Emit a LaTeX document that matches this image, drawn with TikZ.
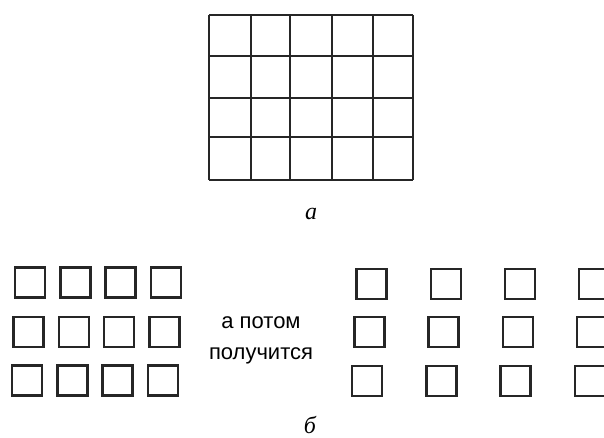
\documentclass[tikz,border=0pt]{standalone}
\usepackage{fontspec}
\setmainfont{Liberation Serif}
\newfontfamily\labelsans{Liberation Sans}
\begin{document}
\begin{tikzpicture}[x=1pt,y=-1pt,
  gridline/.style={line width=2pt,draw=black!85},
  sqbox/.style={draw=black!85,line width=2.4pt,minimum size=30pt,inner sep=0pt},
  caption/.style={font=\itshape\fontsize{24}{28}\selectfont,inner sep=1pt}]
\useasboundingbox (0,0) rectangle (604,438);
\clip (0,0) rectangle (604,438);
% grid a
\foreach \x in {209,251,290,332,373,413} \draw[gridline] (\x,15) -- (\x,180);
\foreach \y in {15,56,98,137,180} \draw[gridline] (209,\y) -- (413,\y);
\node[caption] (capa) at (311,214) {a};
% squares b, left
\foreach \r/\y in {0/282.5,1/332,2/380.5}
  \foreach \c in {0,...,3}
    \node[sqbox] (sql-\r-\c) at ({30+45.3*\c-1.5*\r},\y) {};
\node[font=\labelsans\fontsize{22}{31}\selectfont,align=center] (txt) at (261,340) {а потом\\получится};
% squares b, right
\foreach \r/\y in {0/284,1/332,2/381}
  \foreach \c in {0,...,3}
    \node[sqbox] (sqr-\r-\c) at ({371.5+74.2*\c-2.2*\r},\y) {};
\node[caption,anchor=base] (capb) at (310,433) {б};
\end{tikzpicture}
\end{document}
